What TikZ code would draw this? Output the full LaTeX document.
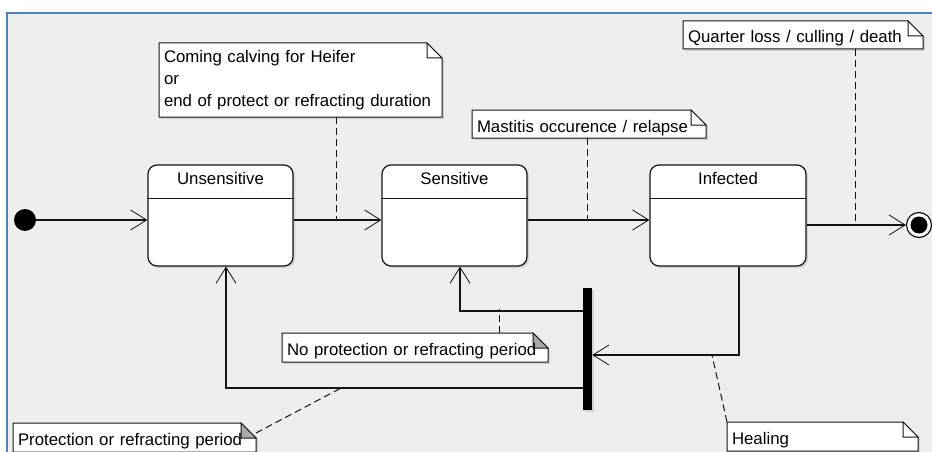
\documentclass[tikz,border=0pt]{standalone}
\usepackage{fontspec}
\setmainfont{Liberation Sans}
\usetikzlibrary{arrows.meta,shadows,calc}
\pgfdeclarelayer{back}
\pgfdeclarelayer{bg}
\pgfsetlayers{back,bg,main}
\definecolor{frameblue}{RGB}{79,129,189}
\definecolor{canvas}{RGB}{238,238,238}
\definecolor{ink}{RGB}{20,20,20}
\definecolor{foldgray}{RGB}{170,170,170}
\newcommand\drawnote[2]{%
 \begin{pgfonlayer}{bg}
 \filldraw[noteline,fill=white,shadowed] (#1.north west) -- ([xshift=-15pt]#1.north east) -- ([yshift=-15pt]#1.north east) -- (#1.south east) -- (#1.south west) -- cycle;
 \filldraw[noteline,fill=#2] ([xshift=-15pt]#1.north east) -- ([xshift=-15pt,yshift=-15pt]#1.north east) -- ([yshift=-15pt]#1.north east) -- cycle;
 \end{pgfonlayer}}
\begin{document}
\begin{tikzpicture}[x=1pt,y=-1pt,
  font=\fontsize{16.8}{22}\selectfont,
  shadowed/.style={drop shadow={shadow xshift=2pt,shadow yshift=-2pt,opacity=0.25}},
  state/.style={draw=ink,line width=1.2pt,fill=white,rounded corners=9pt,shadowed,minimum height=101pt,inner sep=0pt},
  notebox/.style={inner sep=5pt,outer sep=0pt,align=left},
  oneline/.style={notebox,text height=16pt,text depth=0pt},
  trans/.style={draw=ink,line width=1.2pt,-{Straight Barb[length=16pt,width=20pt,line width=0.8pt]}},
  flow/.style={draw=ink,line width=1.2pt},
  notelink/.style={draw=ink,line width=1pt,dash pattern=on 7pt off 4pt},
  noteline/.style={draw=ink,line width=1pt}
]
\useasboundingbox (0,0) rectangle (932,452);
\begin{pgfonlayer}{back}
\fill[white] (0,0) rectangle (932,452);
\fill[canvas] (7,13) rectangle (932,452);
\draw[frameblue,line width=2pt] (7,452) -- (7,13) -- (932,13);
\end{pgfonlayer}

% states
\node[state,minimum width=145pt] (uns) at (220.5,215.5) {};
\node[state,minimum width=145pt] (sen) at (454.5,215.5) {};
\node[state,minimum width=156pt] (inf) at (728,215.5) {};
\node[anchor=base] (uns-t) at ([yshift=-20pt]uns.north) {Unsensitive};
\node[anchor=base] (sen-t) at ([yshift=-20pt]sen.north) {Sensitive};
\node[anchor=base] (inf-t) at ([yshift=-20pt]inf.north) {Infected};
\draw[flow] ([yshift=-34pt]uns.north west) -- ([yshift=-34pt]uns.north east);
\draw[flow] ([yshift=-34pt]sen.north west) -- ([yshift=-34pt]sen.north east);
\draw[flow] ([yshift=-34pt]inf.north west) -- ([yshift=-34pt]inf.north east);

% pseudo states
\node[circle,fill=black,minimum size=22pt,inner sep=0pt] (init) at (25,220) {};
\node[circle,draw=ink,line width=1.2pt,fill=white,minimum size=25pt,inner sep=0pt] (fin) at (919,225) {};
\node[circle,fill=black,minimum size=17pt,inner sep=0pt] (fin-dot) at (fin) {};
\node[fill=black,minimum width=9pt,minimum height=122pt,inner sep=0pt,shadowed] (bar) at (587.5,349) {};

% transitions
\coordinate (r1) at (0,220);
\coordinate (r2) at (0,225);
\draw[trans] (init) -- (uns.west |- init);
\draw[trans] (uns.east |- r1) -- (sen.west |- r1);
\draw[trans] (sen.east |- r1) -- (inf.west |- r1);
\draw[trans] (inf.east |- r2) -- (fin);
\coordinate (heal) at (739,355);
\draw[trans] (inf.south -| heal) -- (heal) -- (bar.east |- heal);
\coordinate (backS) at (460,311);
\draw[trans] (bar.west |- backS) -- (backS) -- (sen.south -| backS);
\coordinate (backU) at (226,388);
\draw[trans] (bar.west |- backU) -- (backU) -- (uns.south -| backU);

% notes
\node[notebox,minimum width=283pt,minimum height=74pt,text width=273pt] (n1) at (300.5,80) {Coming calving for Heifer\\or\\end of protect or refracting duration};
\node[oneline,minimum width=234pt,minimum height=28pt,text width=224pt] (n2) at (589,124) {Mastitis occurence / relapse};
\node[oneline,minimum width=240pt,minimum height=28pt,text width=230pt] (n3) at (803,35) {Quarter loss / culling / death};
\node[oneline,minimum width=266pt,minimum height=29pt,text width=256pt] (n4) at (415,347.5) {No protection or refracting period};
\node[oneline,minimum width=243pt,minimum height=29pt,text width=233pt] (n5) at (134.5,437.5) {Protection or refracting period};
\node[oneline,minimum width=191pt,minimum height=29pt,text width=181pt] (n6) at (822.5,436.5) {Healing};
\drawnote{n1}{white}
\drawnote{n2}{white}
\drawnote{n3}{white}
\drawnote{n4}{foldgray}
\drawnote{n5}{foldgray}
\drawnote{n6}{white}

% note links
\coordinate (l1) at (336,220);
\coordinate (l2) at (587,220);
\coordinate (l3) at (855,225);
\coordinate (l4) at (499,309);
\coordinate (l5) at (343,387);
\coordinate (l6) at (712,355);
\draw[notelink] (n1.south -| l1) -- (l1);
\draw[notelink] (n2.south -| l2) -- (l2);
\draw[notelink] (n3.south -| l3) -- (l3);
\draw[notelink] (n4.north -| l4) -- (l4);
\draw[notelink] ([yshift=-10pt]n5.north east) -- (l5);
\draw[notelink] (n6.north west) -- (l6);
\end{tikzpicture}
\end{document}
